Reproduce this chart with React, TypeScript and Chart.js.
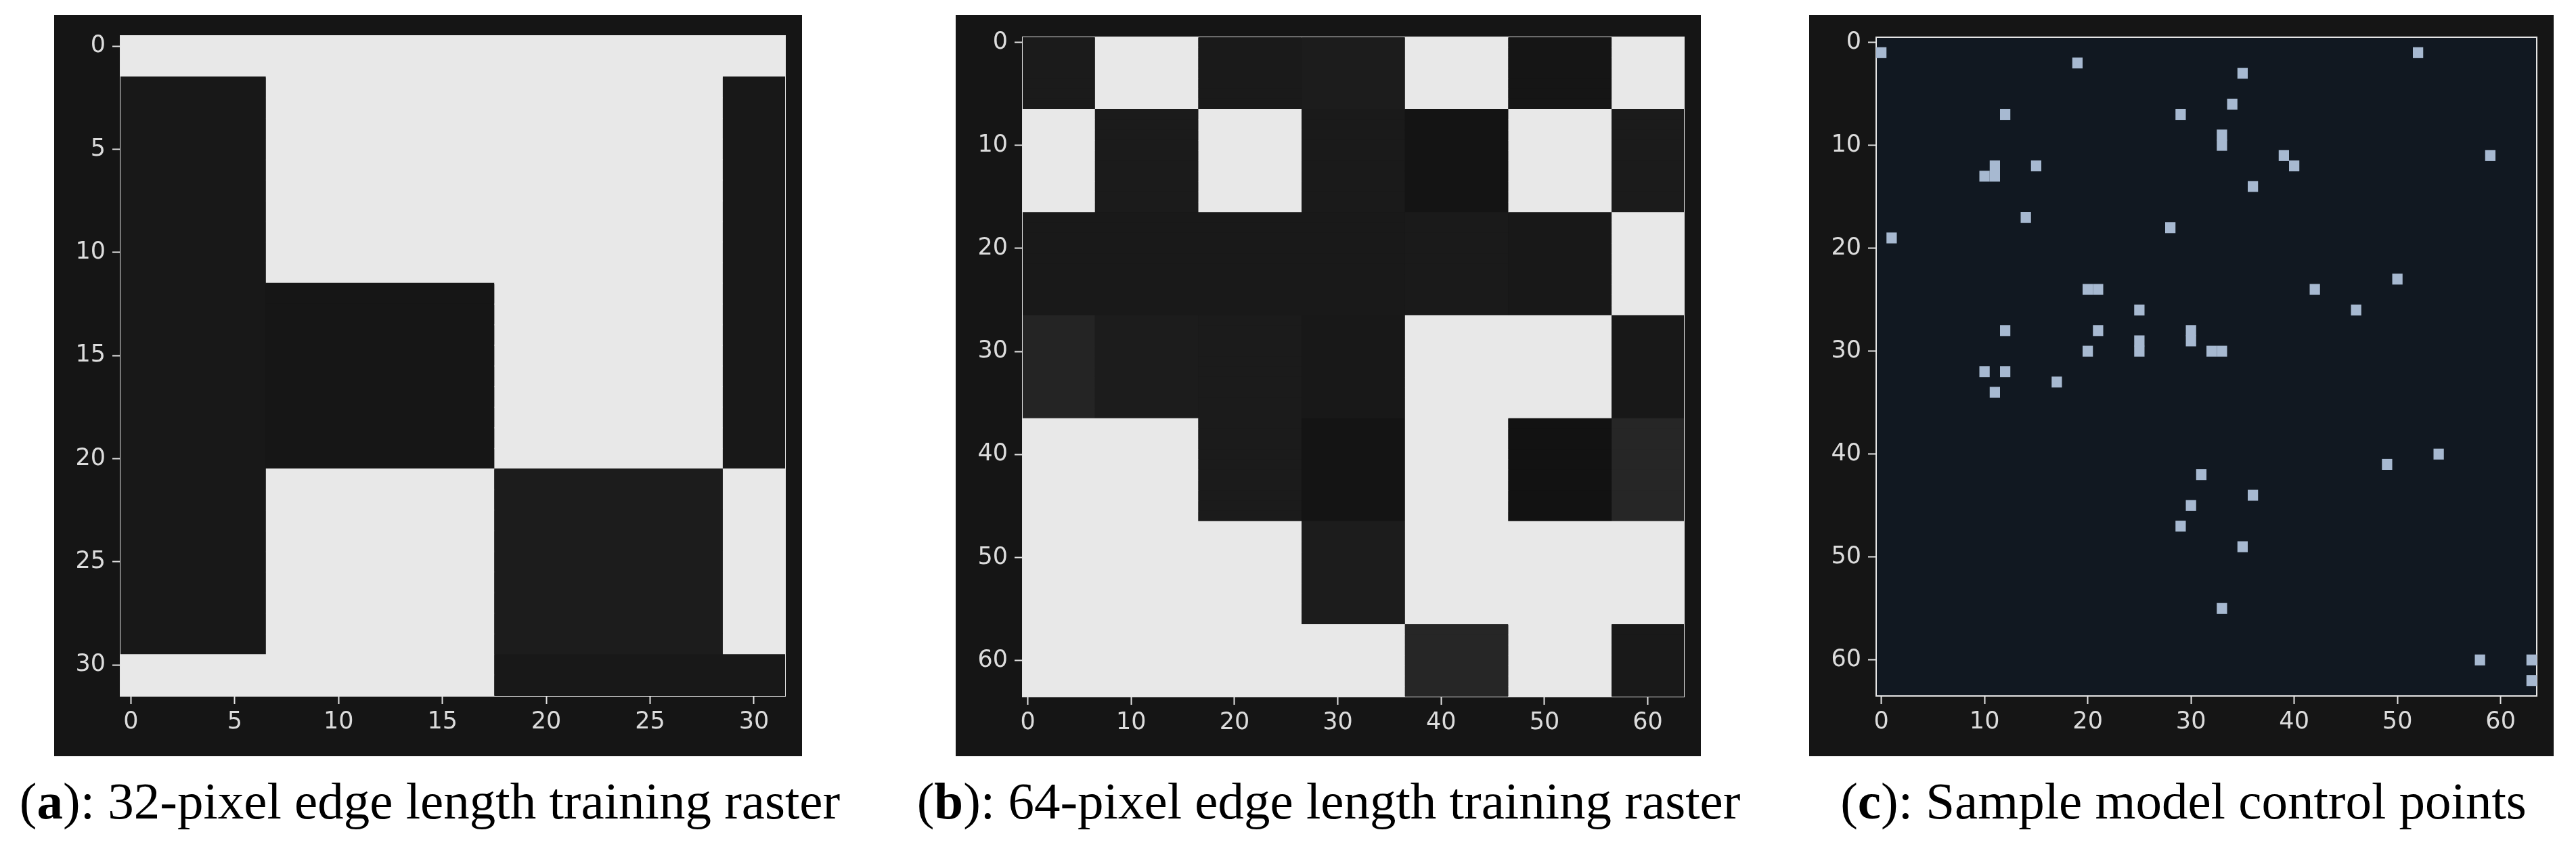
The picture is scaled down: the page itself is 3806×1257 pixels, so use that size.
import React, { useEffect, useRef } from 'react';
import { Chart, registerables } from 'chart.js';

Chart.register(...registerables);

// ---------------- DATA ----------------
// Panel (a): 32 x 32 training raster, described as blocks (start index of each block, last = size)
const rasterA_size = 32;
const rasterA_colEdges = [0, 7, 18, 29, 32];
const rasterA_rowEdges = [0, 2, 12, 21, 30, 32];
// gray level (0-255) of each block [row block][col block]
const rasterA_levels = [
  [232, 232, 232, 232],
  [24, 232, 232, 24],
  [24, 22, 232, 24],
  [24, 232, 28, 232],
  [232, 232, 24, 24],
];
const rasterA_ticks = [0, 5, 10, 15, 20, 25, 30];

// Panel (b): 64 x 64 training raster
const rasterB_size = 64;
const rasterB_colEdges = [0, 7, 17, 27, 37, 47, 57, 64];
const rasterB_rowEdges = [0, 7, 17, 27, 37, 47, 57, 64];
const rasterB_levels = [
  [27, 232, 26, 28, 232, 21, 232],
  [232, 27, 232, 26, 20, 232, 27],
  [25, 25, 25, 25, 26, 24, 232],
  [36, 28, 27, 24, 232, 232, 24],
  [232, 232, 27, 20, 232, 18, 38],
  [232, 232, 232, 28, 232, 232, 232],
  [232, 232, 232, 232, 38, 232, 25],
];
const rasterB_ticks = [0, 10, 20, 30, 40, 50, 60];

// Panel (c): 64 x 64 sample model control points (column, row)
const pointsC_size = 64;
const pointsC_x = [0, 19, 52, 35, 34, 12, 29, 33, 33, 39, 40, 59, 11, 10, 11, 15, 36, 14, 28, 1, 50, 20, 21, 42, 25, 46, 12, 21, 30, 30, 25, 25, 20, 32, 33, 10, 12, 17, 11, 54, 49, 31, 36, 30, 29, 35, 33, 58, 63, 63];
const pointsC_y = [1, 2, 1, 3, 6, 7, 7, 9, 10, 11, 12, 11, 12, 13, 13, 12, 14, 17, 18, 19, 23, 24, 24, 24, 26, 26, 28, 28, 28, 29, 29, 30, 30, 30, 30, 32, 32, 33, 34, 40, 41, 42, 44, 45, 47, 49, 55, 60, 60, 62];
const pointsC_ticks = [0, 10, 20, 30, 40, 50, 60];

const captionLetters = ['a', 'b', 'c'];
const captionTexts = [
  ': 32-pixel edge length training raster',
  ': 64-pixel edge length training raster',
  ': Sample model control points',
];

// ---------------- STYLE ----------------
const PANEL_BG = '#151515';
const SPINE = '#e4e4e4';
const TEXT = '#dcdcdc';
const POINT_COLOR = '#a7b9d1';
const PLOT_BG_C = '#111821';
const TICK_FONT = { family: '"DejaVu Sans", sans-serif', size: 35 };

type Box = { left: number; top: number; width: number; height: number; pl: number; pt: number; pr: number; pb: number };

const BOXES: Box[] = [
  { left: 80, top: 22, width: 1105, height: 1095, pl: 98, pt: 27, pr: 25, pb: 89 },
  { left: 1412, top: 22, width: 1101, height: 1095, pl: 99, pt: 33, pr: 25, pb: 88 },
  { left: 2673, top: 22, width: 1100, height: 1095, pl: 99, pt: 33, pr: 25, pb: 89 },
];
const CAPTION_CX = [635, 1963, 3226];

// ---------------- BUILDERS ----------------
function rasterBars(colEdges: number[], rowEdges: number[], levels: number[][]) {
  const data: any[] = [];
  const colors: string[] = [];
  for (let rb = 0; rb < rowEdges.length - 1; rb++) {
    // merge neighbouring blocks of identical level so no seams appear
    const runs: { from: number; to: number; v: number }[] = [];
    for (let cb = 0; cb < colEdges.length - 1; cb++) {
      const v = levels[rb][cb];
      const last = runs[runs.length - 1];
      if (last && last.v === v) last.to = colEdges[cb + 1];
      else runs.push({ from: colEdges[cb], to: colEdges[cb + 1], v });
    }
    for (let r = rowEdges[rb]; r < rowEdges[rb + 1]; r++) {
      for (const run of runs) {
        data.push({ y: String(r), x: [run.from - 0.5, run.to - 0.5] });
        colors.push(`rgb(${run.v},${run.v},${run.v})`);
      }
    }
  }
  return { data, colors };
}

function pointBars(xs: number[], ys: number[]) {
  const data = xs.map((x, i) => ({ y: String(ys[i]), x: [x - 0.5, x + 0.5] }));
  return { data, colors: xs.map(() => POINT_COLOR) };
}

const plotBgPlugin = {
  id: 'plotBg',
  beforeDraw(chart: any, _args: any, opts: any) {
    if (!opts || !opts.color) return;
    const { ctx, chartArea: a } = chart;
    ctx.save();
    ctx.fillStyle = opts.color;
    ctx.fillRect(a.left, a.top, a.right - a.left, a.bottom - a.top);
    ctx.restore();
  },
};

function makeConfig(size: number, ticks: number[], bars: { data: any[]; colors: string[] }, box: Box, plotBg: string | null) {
  const labels = Array.from({ length: size }, (_, i) => String(i));
  const tickOpts = {
    color: TEXT,
    font: TICK_FONT,
    autoSkip: false,
    maxRotation: 0,
    minRotation: 0,
  };
  const gridOpts = {
    drawOnChartArea: false,
    drawTicks: true,
    tickLength: 12,
    tickWidth: 2,
    tickColor: SPINE,
    color: SPINE,
    offset: false,
  };
  const frameAxis = (pos: string) => ({
    type: 'linear',
    position: pos,
    display: true,
    z: 2,
    ticks: { display: false },
    grid: { display: false, drawTicks: false },
    border: { display: true, color: SPINE, width: 2 },
    afterFit: (s: any) => {
      if (pos === 'top') s.height = 0;
      else s.width = 0;
    },
  });
  return {
    type: 'bar',
    data: {
      labels,
      datasets: [
        {
          data: bars.data,
          backgroundColor: bars.colors,
          borderWidth: 0,
          barPercentage: 1,
          categoryPercentage: 1.06,
          grouped: false,
        },
      ],
    },
    options: {
      indexAxis: 'y',
      animation: false,
      responsive: false,
      devicePixelRatio: 1,
      events: [],
      layout: { padding: { left: 0, top: box.pt, right: box.pr, bottom: 0 } },
      plugins: {
        legend: { display: false },
        tooltip: { enabled: false },
        title: { display: false },
        plotBg: { color: plotBg },
      },
      scales: {
        x: {
          type: 'linear',
          position: 'bottom',
          min: -0.5,
          max: size - 0.5,
          z: 2,
          afterBuildTicks: (s: any) => {
            s.ticks = ticks.map((v) => ({ value: v }));
          },
          afterFit: (s: any) => {
            s.height = box.pb;
          },
          ticks: { ...tickOpts, padding: 6, callback: (v: any) => String(v) },
          grid: gridOpts,
          border: { display: true, color: SPINE, width: 2 },
        },
        y: {
          type: 'category',
          position: 'left',
          offset: true,
          z: 2,
          afterBuildTicks: (s: any) => {
            s.ticks = ticks.map((v) => ({ value: v }));
          },
          afterFit: (s: any) => {
            s.width = box.pl;
          },
          ticks: { ...tickOpts, padding: 10 },
          grid: gridOpts,
          border: { display: true, color: SPINE, width: 2 },
        },
        xTop: frameAxis('top'),
        yRight: frameAxis('right'),
      },
    },
    plugins: [plotBgPlugin],
  } as any;
}

// ---------------- COMPONENTS ----------------
function Panel({ box, config }: { box: Box; config: any }) {
  const ref = useRef<HTMLCanvasElement | null>(null);
  useEffect(() => {
    if (!ref.current) return;
    const chart = new Chart(ref.current, config);
    return () => chart.destroy();
  }, [config]);
  return (
    <div
      style={{
        position: 'absolute',
        left: box.left,
        top: box.top,
        width: box.width,
        height: box.height,
        background: PANEL_BG,
      }}
    >
      <canvas ref={ref} width={box.width} height={box.height} style={{ display: 'block', width: box.width, height: box.height }} />
    </div>
  );
}

const CONFIGS = [
  makeConfig(rasterA_size, rasterA_ticks, rasterBars(rasterA_colEdges, rasterA_rowEdges, rasterA_levels), BOXES[0], null),
  makeConfig(rasterB_size, rasterB_ticks, rasterBars(rasterB_colEdges, rasterB_rowEdges, rasterB_levels), BOXES[1], null),
  makeConfig(pointsC_size, pointsC_ticks, pointBars(pointsC_x, pointsC_y), BOXES[2], PLOT_BG_C),
];

export default function App() {
  return (
    <div style={{ position: 'absolute', left: 0, top: 0, width: 3806, height: 1257, background: '#ffffff', overflow: 'hidden' }}>
      {CONFIGS.map((cfg, i) => (
        <Panel key={i} box={BOXES[i]} config={cfg} />
      ))}
      {captionTexts.map((t, i) => (
        <div
          key={'cap' + i}
          style={{
            position: 'absolute',
            left: CAPTION_CX[i],
            top: 1145,
            transform: 'translateX(-50%)',
            whiteSpace: 'nowrap',
            fontFamily: '"Liberation Serif", "Times New Roman", serif',
            fontSize: 77,
            lineHeight: 1,
            color: '#000',
          }}
        >
          (<b>{captionLetters[i]}</b>){t}
        </div>
      ))}
    </div>
  );
}
